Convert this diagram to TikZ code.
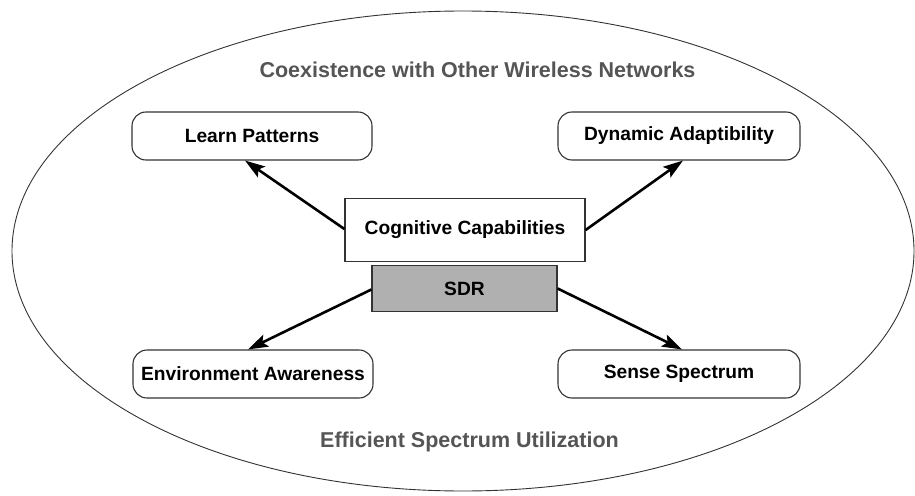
\documentclass[tikz,border=0pt]{standalone}
\usepackage{fontspec}
\setmainfont{Liberation Sans}
\usetikzlibrary{arrows.meta}
\definecolor{boxline}{HTML}{333333}
\definecolor{sdrfill}{HTML}{B0B0B0}
\definecolor{ringtext}{HTML}{555555}
\tikzset{
  capbox/.style={draw=boxline, line width=1.1pt, rounded corners=14pt, fill=white,
    minimum width=240pt, minimum height=48pt, inner sep=0pt,
    font=\fontsize{19.2}{21}\selectfont\bfseries},
  corebox/.style={draw=boxline, line width=1.2pt, inner sep=0pt,
    font=\fontsize{19.2}{21}\selectfont\bfseries},
  ringlabel/.style={text=ringtext, font=\fontsize{21.5}{23}\selectfont\bfseries},
  flow/.style={line width=2.6pt, -{Stealth[length=20pt, width=13pt, inset=4pt]}}
}
\begin{document}
\begin{tikzpicture}[x=1pt, y=-1pt]
  \useasboundingbox (0,0) rectangle (915,495);
  % outer environment ellipse
  \draw[boxline, line width=0.9pt] (463,251) ellipse [x radius=451, y radius=240];
  \node[ringlabel] (coex) at (477.5,70) {Coexistence with Other Wireless Networks};
  \node[ringlabel] (eff) at (469.5,442) {Efficient Spectrum Utilization};

  % four capabilities
  \node[capbox] (learn) at (252,136) {Learn Patterns};
  \node[capbox, minimum width=242pt] (dyn) at (679,136) {Dynamic Adaptibility};
  \node[capbox] (env) at (253,374) {Environment Awareness};
  \node[capbox, minimum width=242pt] (sense) at (679,374) {Sense Spectrum};

  % core
  \node[corebox, fill=white, minimum width=240pt, minimum height=63pt] (cog) at (465,230) {Cognitive Capabilities};
  \node[corebox, fill=sdrfill, minimum width=185pt, minimum height=46pt] (sdr) at (464.5,288.5) {SDR};

  % connectors
  \draw[flow] ([yshift=1pt]cog.west) -- ([xshift=-7pt]learn.south);
  \draw[flow] (cog.east) -- ([xshift=4pt]dyn.south);
  \draw[flow] ([yshift=-1pt]sdr.west) -- ([xshift=-5pt]env.north);
  \draw[flow] (sdr.east) -- ([xshift=3pt]sense.north);
\end{tikzpicture}
\end{document}
